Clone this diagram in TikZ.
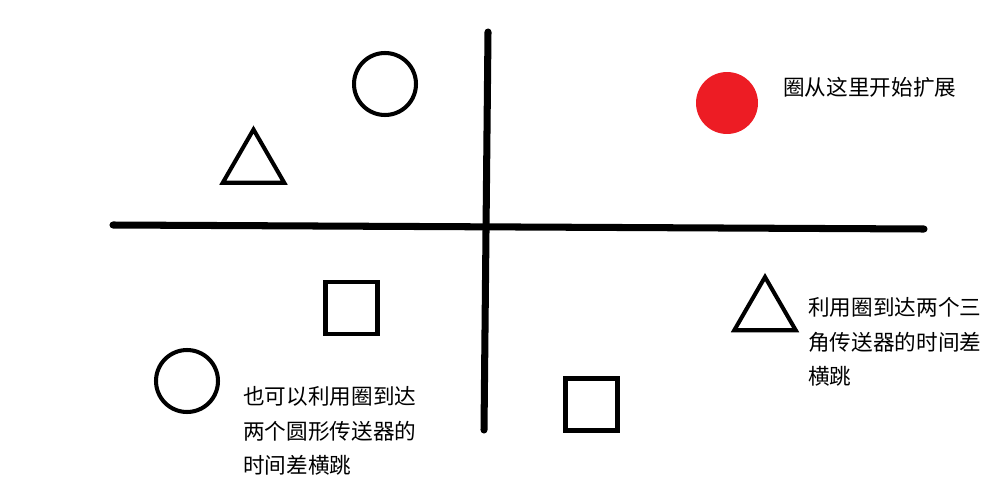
\documentclass[tikz,border=0pt]{standalone}
\usepackage{fontspec}
\newfontfamily\cjk{Noto Sans CJK SC}
\usetikzlibrary{shapes.geometric,positioning}
\definecolor{paintred}{RGB}{237,28,36}

\begin{document}
\begin{tikzpicture}[x=0.02cm,y=-0.02cm,
      axe/.style={
        line width=4pt,
        line cap=round
      },
      ring/.style={
        draw,
        circle,
        line width=2.3pt,
        minimum size=1.24cm,
        inner sep=0pt
      },
      dot/.style={
        circle,
        fill=paintred,
        minimum size=1.24cm,
        inner sep=0pt
      },
      squa/.style={
        draw,
        line width=2.8pt,
        minimum size=1.04cm,
        inner sep=0pt
      },
      tri/.style={
        draw,
        regular polygon,
        regular polygon sides=3,
        line width=2.3pt,
        minimum size=1.42cm,
        inner sep=0pt
      },
      note/.style={
        anchor=west,
        align=left,
        inner sep=0pt,
        font=\cjk\fontsize{12.3}{19.6}\selectfont
      }
      ]
      \useasboundingbox (0,0) rectangle (1000,500);

      % axes
      \coordinate (top) at (488,32);
      \coordinate (bot) at (484,430);
      \coordinate (left) at (113,225);
      \coordinate (right) at (924,229);
      \draw[axe] (top) -- (bot);
      \draw[axe] (left) -- (right);

      % upper left
      \node[ring] (c1) at (385,84) {};
      \node[tri] (t1) at (253.5,165) {};

      % upper right
      \node[dot] (start) at (727,103) {};
      \node[note] (n1) at (783,87) {圈从这里开始扩展};

      % lower left
      \node[squa] (s1) at (351.5,308) {};
      \node[ring] (c2) at (187,381) {};
      \node[note] (n2) at (243,431)
        {也可以利用圈到达\\两个圆形传送器的\\时间差横跳};

      % lower right
      \node[squa] (s2) at (591.5,404.5) {};
      \node[tri] (t2) at (765,312.5) {};
      \node[note] (n3) at (808,342)
        {利用圈到达两个三\\角传送器的时间差\\横跳};
\end{tikzpicture}
\end{document}
